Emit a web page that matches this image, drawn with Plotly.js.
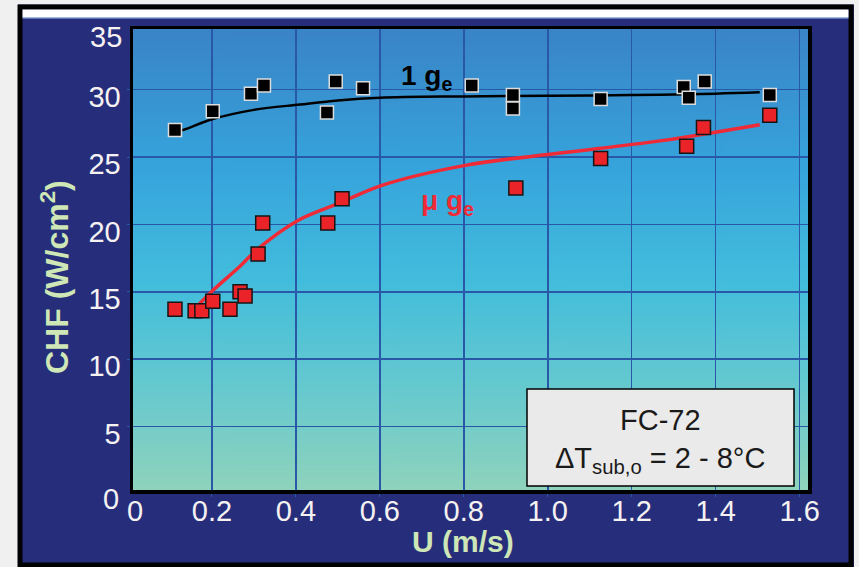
<!DOCTYPE html>
<html>
<head>
<meta charset="utf-8">
<script src="https://cdn.plot.ly/plotly-3.0.1.min.js"></script>
<style>
  html, body { margin: 0; padding: 0; background: #f0f0f0; }
  #chart { width: 859px; height: 567px; }
</style>
</head>
<body>
<div id="chart"></div>
<script>
// ---- data ----
const oneG_U   = [0.112, 0.202, 0.293, 0.324, 0.474, 0.495, 0.560, 0.819, 0.917, 0.917, 1.126, 1.324, 1.336, 1.374, 1.529];
const oneG_CHF = [27.0, 28.4, 29.7, 30.3, 28.3, 30.6, 30.1, 30.3, 29.6, 28.6, 29.3, 30.2, 29.4, 30.6, 29.6];

const microG_U   = [0.112, 0.160, 0.176, 0.202, 0.243, 0.267, 0.279, 0.310, 0.321, 0.476, 0.510, 0.924, 1.126, 1.331, 1.371, 1.529];
const microG_CHF = [13.7, 13.6, 13.6, 14.3, 13.7, 15.0, 14.7, 17.8, 20.1, 20.1, 21.9, 22.7, 24.9, 25.8, 27.2, 28.1];

const oneGFit_U   = [0.112, 0.13, 0.2, 0.3, 0.41, 0.5, 0.6, 0.8, 1.0, 1.2, 1.4, 1.505];
const oneGFit_CHF = [26.9, 27.0, 27.8, 28.5, 28.9, 29.2, 29.4, 29.5, 29.55, 29.6, 29.7, 29.8];

const microGFit_U   = [0.164, 0.202, 0.267, 0.310, 0.405, 0.505, 0.605, 0.807, 1.029, 1.267, 1.505];
const microGFit_CHF = [13.9, 15.1, 16.9, 18.2, 20.3, 21.6, 22.9, 24.4, 25.3, 26.2, 27.4];

const xTickVals = [0.2, 0.4, 0.6, 0.8, 1.0, 1.2, 1.4, 1.6];
const xTickText = ['0.2', '0.4', '0.6', '0.8', '1.0', '1.2', '1.4', '1.6'];
const yTickVals = [5, 10, 15, 20, 25, 30];
const yTickText = ['5', '10', '15', '20', '25', '30'];

// ---- layout geometry (pixels) ----
const L = 133, R = 808, T = 29, B = 490;
const px = p => (p - L) / (R - L);
const py = p => (B - p) / (B - T);

// gradient for plot background
const cv = document.createElement('canvas');
cv.width = 4; cv.height = 256;
const ctx = cv.getContext('2d');
const g = ctx.createLinearGradient(0, 0, 0, 256);
g.addColorStop(0.0, '#3a84c6');
g.addColorStop(0.3, '#36a4dc');
g.addColorStop(0.55, '#43bddc');
g.addColorStop(0.78, '#66c9cf');
g.addColorStop(1.0, '#8fd3bc');
ctx.fillStyle = g;
ctx.fillRect(0, 0, 4, 256);
const gradURL = cv.toDataURL('image/png');

const FONT = 'Liberation Sans, Arial, sans-serif';
const tickFont = {family: FONT, size: 29, color: '#f6f2f2'};
const titleColor = '#cfe6b6';
const NAVY = '#262e7c';
const GRAY = '#f0f0f0';

const traces = [
  {x: oneGFit_U, y: oneGFit_CHF, mode: 'lines', line: {color: '#000000', width: 2.5, shape: 'spline'}, hoverinfo: 'skip', showlegend: false},
  {x: microGFit_U, y: microGFit_CHF, mode: 'lines', line: {color: '#f02a36', width: 3.5, shape: 'spline'}, hoverinfo: 'skip', showlegend: false},
  {x: oneG_U, y: oneG_CHF, mode: 'markers', name: '1 g',
   marker: {symbol: 'square', size: 13, color: '#000000', line: {color: '#dcdcdc', width: 1.5}}, showlegend: false},
  {x: microG_U, y: microG_CHF, mode: 'markers', name: 'μ g',
   marker: {symbol: 'square', size: 14, color: '#ea2328', line: {color: '#151515', width: 1.5}}, showlegend: false}
];

const layout = {
  width: 859, height: 567,
  margin: {l: L, r: 859 - R, t: T, b: 567 - B, pad: 0},
  paper_bgcolor: NAVY,
  plot_bgcolor: '#3aa8dc',
  font: {family: FONT},
  xaxis: {
    range: [0.012, 1.62], tickvals: xTickVals, ticktext: xTickText,
    tickfont: tickFont, showgrid: true, gridcolor: '#2a58a8', gridwidth: 1.6,
    showline: true, linecolor: '#000000', linewidth: 3.5, mirror: true,
    ticks: 'outside', ticklen: 3, tickcolor: '#2a58a8', zeroline: false,
    ticklabelstandoff: -10
  },
  yaxis: {
    range: [0.3, 34.5], tickvals: yTickVals, ticktext: yTickText,
    tickfont: tickFont, showgrid: true, gridcolor: '#2a58a8', gridwidth: 1.6,
    showline: true, linecolor: '#000000', linewidth: 3.5, mirror: true,
    ticks: 'outside', ticklen: 3, tickcolor: '#2a58a8', zeroline: false,
    ticklabelshift: 7, ticklabelstandoff: 0
  },
  images: [{source: gradURL, xref: 'paper', yref: 'paper', x: 0, y: 1, sizex: 1, sizey: 1,
            sizing: 'stretch', xanchor: 'left', yanchor: 'top', layer: 'below'}],
  shapes: [
    // light gray surroundings
    {type: 'rect', xref: 'paper', yref: 'paper', x0: px(-5), x1: px(18), y0: py(572), y1: py(-5),
     fillcolor: GRAY, line: {width: 0}, layer: 'below'},
    {type: 'rect', xref: 'paper', yref: 'paper', x0: px(854), x1: px(865), y0: py(572), y1: py(-5),
     fillcolor: GRAY, line: {width: 0}, layer: 'below'},
    {type: 'rect', xref: 'paper', yref: 'paper', x0: px(-5), x1: px(865), y0: py(4.5), y1: py(-5),
     fillcolor: GRAY, line: {width: 0}, layer: 'below'},
    // black frame border
    {type: 'rect', xref: 'paper', yref: 'paper', x0: px(20), x1: px(851), y0: py(565), y1: py(7),
     fillcolor: 'rgba(0,0,0,0)', line: {color: '#000000', width: 5}, layer: 'below'},
    // white stripe at the top
    {type: 'rect', xref: 'paper', yref: 'paper', x0: px(22.5), x1: px(848.5), y0: py(17), y1: py(9.5),
     fillcolor: '#ffffff', line: {width: 0}, layer: 'below'},
    {type: 'rect', xref: 'paper', yref: 'paper', x0: px(22.5), x1: px(848.5), y0: py(18.5), y1: py(17),
     fillcolor: '#9db8e2', line: {width: 0}, layer: 'below'},
    // info box
    {type: 'rect', xref: 'paper', yref: 'paper', x0: px(527), x1: px(794), y0: py(486), y1: py(389),
     fillcolor: '#ebeaea', line: {color: '#000000', width: 1.5}, layer: 'above'}
  ],
  annotations: [
    {text: 'U (m/s)', xref: 'paper', yref: 'paper', x: px(463), y: py(541), xanchor: 'center', yanchor: 'middle', showarrow: false,
     font: {family: FONT, size: 30, color: titleColor, weight: 'bold'}},
    {text: 'CHF (W/cm<sup>2</sup>)', xref: 'paper', yref: 'paper', x: px(55), y: py(277), xanchor: 'center', yanchor: 'middle', showarrow: false,
     textangle: -90, font: {family: FONT, size: 32, color: titleColor, weight: 'bold'}},
    {text: '35', xref: 'paper', yref: 'paper', x: px(124), y: py(37), xanchor: 'right', yanchor: 'middle', showarrow: false, font: tickFont},
    {text: '0', xref: 'paper', yref: 'paper', x: px(121), y: py(499), xanchor: 'right', yanchor: 'middle', showarrow: false, font: tickFont},
    {text: '0', xref: 'paper', yref: 'paper', x: px(135), y: py(511), xanchor: 'center', yanchor: 'middle', showarrow: false, font: tickFont},
    {text: '1 g<sub>e</sub>', xref: 'paper', yref: 'paper', x: px(426), y: py(77), xanchor: 'center', yanchor: 'middle', showarrow: false,
     font: {family: FONT, size: 28, color: '#000000', weight: 'bold'}},
    {text: 'μ g<sub>e</sub>', xref: 'paper', yref: 'paper', x: px(447), y: py(203), xanchor: 'center', yanchor: 'middle', showarrow: false,
     font: {family: FONT, size: 28, color: '#f02a36', weight: 'bold'}},
    {text: 'FC-72', xref: 'paper', yref: 'paper', x: px(660), y: py(420), xanchor: 'center', yanchor: 'middle', showarrow: false,
     font: {family: FONT, size: 29, color: '#1a1a1a'}},
    {text: 'ΔT<sub>sub,o</sub> = 2 - 8°C', xref: 'paper', yref: 'paper', x: px(660), y: py(460), xanchor: 'center', yanchor: 'middle', showarrow: false,
     font: {family: FONT, size: 29, color: '#1a1a1a'}}
  ]
};

Plotly.newPlot('chart', traces, layout, {displayModeBar: false, staticPlot: true});
</script>
</body>
</html>
